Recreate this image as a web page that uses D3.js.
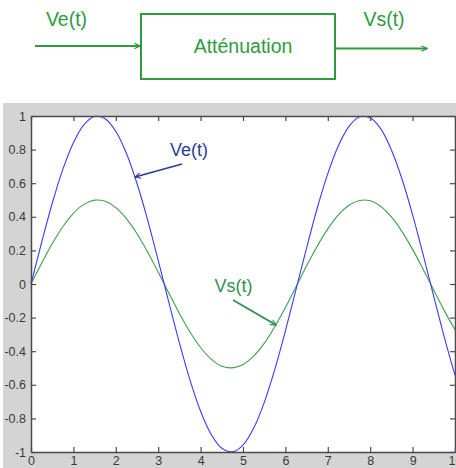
<!DOCTYPE html>
<html><head><meta charset="utf-8">
<script src="https://cdn.jsdelivr.net/npm/d3@7"></script>
<style>html,body{margin:0;padding:0;background:#fff;overflow:hidden}</style>
</head><body>
<script>
const tValues = [0,0.25,0.5,0.75,1,1.25,1.5,1.75,2,2.25,2.5,2.75,3,3.25,3.5,3.75,4,4.25,4.5,4.75,5,5.25,5.5,5.75,6,6.25,6.5,6.75,7,7.25,7.5,7.75,8,8.25,8.5,8.75,9,9.25,9.5,9.75,10];
const veValues = [0,0.247,0.479,0.682,0.841,0.949,0.997,0.984,0.909,0.778,0.598,0.382,0.141,-0.108,-0.351,-0.572,-0.757,-0.895,-0.978,-0.999,-0.959,-0.859,-0.706,-0.508,-0.279,-0.033,0.215,0.451,0.657,0.823,0.938,0.995,0.989,0.923,0.798,0.625,0.412,0.174,-0.075,-0.319,-0.544];
const vsValues = [0,0.124,0.240,0.341,0.421,0.474,0.499,0.492,0.455,0.389,0.299,0.191,0.071,-0.054,-0.175,-0.286,-0.378,-0.447,-0.489,-0.499,-0.479,-0.429,-0.353,-0.254,-0.140,-0.017,0.108,0.225,0.328,0.412,0.469,0.497,0.495,0.461,0.399,0.312,0.206,0.087,-0.037,-0.160,-0.272];
const xTicks = [0,1,2,3,4,5,6,7,8,9,10];
const yTicks = [1,0.8,0.6,0.4,0.2,0,-0.2,-0.4,-0.6,-0.8,-1];
const yTickLabels = ["1","0.8","0.6","0.4","0.2","0","-0.2","-0.4","-0.6","-0.8","-1"];
const blockLabel = "Atténuation";
const inLabel = "Ve(t)", outLabel = "Vs(t)";

const W=456,H=468;
const svg=d3.select("body").append("svg").attr("width",W).attr("height",H);
const defs=svg.append("defs");
function marker(id,color){
  defs.append("marker").attr("id",id).attr("viewBox","0 0 10 10").attr("refX",9).attr("refY",5)
   .attr("markerWidth",7).attr("markerHeight",7).attr("markerUnits","userSpaceOnUse").attr("orient","auto")
   .append("path").attr("d","M1,1 L9,5 L1,9").attr("fill","none").attr("stroke",color).attr("stroke-width",1.6);
}
const green="#2f9a3f", navy="#2d3d96", lgreen="#2e8f55";
marker("ag",green); marker("an",navy); marker("al",lgreen);

// block diagram
const font="'Liberation Sans', Arial, sans-serif";
svg.append("rect").attr("x",141).attr("y",14).attr("width",194).attr("height",65)
  .attr("fill","none").attr("stroke",green).attr("stroke-width",2);
svg.append("line").attr("x1",35).attr("y1",46).attr("x2",140).attr("y2",46).attr("stroke",green).attr("stroke-width",2).attr("marker-end","url(#ag)");
svg.append("line").attr("x1",336).attr("y1",48.5).attr("x2",427).attr("y2",48.5).attr("stroke",green).attr("stroke-width",2).attr("marker-end","url(#ag)");
svg.append("text").attr("x",66.5).attr("y",26).attr("text-anchor","middle").attr("font-family",font).attr("font-size",19.5).attr("fill",green).text(inLabel);
svg.append("text").attr("x",384).attr("y",26).attr("text-anchor","middle").attr("font-family",font).attr("font-size",19.5).attr("fill",green).text(outLabel);
svg.append("text").attr("x",243).attr("y",52.5).attr("text-anchor","middle").attr("font-family",font).attr("font-size",19.5).attr("fill",green).text(blockLabel);

// figure background
svg.append("rect").attr("x",3).attr("y",103).attr("width",W-3).attr("height",H-103).attr("fill","#d4d4d4");

const L=31,R=455,T=116,B=452;
const x=d3.scaleLinear().domain([0,10]).range([L,R]);
const y=d3.scaleLinear().domain([-1,1]).range([B,T]);
svg.append("rect").attr("x",L).attr("y",T).attr("width",R-L).attr("height",B-T).attr("fill","#fff");

const line=d3.line().x(d=>x(d[0])).y(d=>y(d[1])).curve(d3.curveCatmullRom);
svg.append("path").datum(tValues.map((t,i)=>[t,vsValues[i]])).attr("d",line).attr("fill","none").attr("stroke","#3f9f4a").attr("stroke-width",1.1);
svg.append("path").datum(tValues.map((t,i)=>[t,veValues[i]])).attr("d",line).attr("fill","none").attr("stroke","#3b3bff").attr("stroke-width",1.1);

// axes
const ax="#4a4a4a";
const gB=svg.append("g").attr("transform",`translate(0,${B})`).call(d3.axisBottom(x).tickValues(xTicks).tickSizeInner(-5).tickSizeOuter(0).tickPadding(6).tickFormat(d3.format("d")));
const gT=svg.append("g").attr("transform",`translate(0,${T})`).call(d3.axisTop(x).tickValues(xTicks).tickSizeInner(-5).tickSizeOuter(0).tickFormat(""));
const gL=svg.append("g").attr("transform",`translate(${L},0)`).call(d3.axisLeft(y).tickValues(yTicks).tickSizeInner(-5).tickSizeOuter(0).tickPadding(5).tickFormat((d,i)=>yTickLabels[i]));
const gR=svg.append("g").attr("transform",`translate(${R},0)`).call(d3.axisRight(y).tickValues(yTicks).tickSizeInner(-5).tickSizeOuter(0).tickFormat(""));
[gB,gT,gL,gR].forEach(g=>{
  g.select(".domain").attr("stroke",ax).attr("stroke-width",1.5);
  g.selectAll(".tick line").attr("stroke",ax).attr("stroke-width",1.2);
  g.selectAll("text").attr("font-family",font).attr("font-size",12.5).attr("fill","#3a3a3a");
});
gB.selectAll("text").attr("dy",0).attr("y",13).attr("font-size",12.5);

// annotations
svg.append("text").attr("x",189).attr("y",156).attr("text-anchor","middle").attr("font-family",font).attr("font-size",18).attr("fill",navy).text(inLabel);
svg.append("line").attr("x1",182).attr("y1",164).attr("x2",135).attr("y2",177).attr("stroke",navy).attr("stroke-width",1.8).attr("marker-end","url(#an)");
svg.append("text").attr("x",233.5).attr("y",292).attr("text-anchor","middle").attr("font-family",font).attr("font-size",18).attr("fill",lgreen).text(outLabel);
svg.append("line").attr("x1",233).attr("y1",300).attr("x2",276).attr("y2",325).attr("stroke",lgreen).attr("stroke-width",1.8).attr("marker-end","url(#al)");
</script>
</body></html>
